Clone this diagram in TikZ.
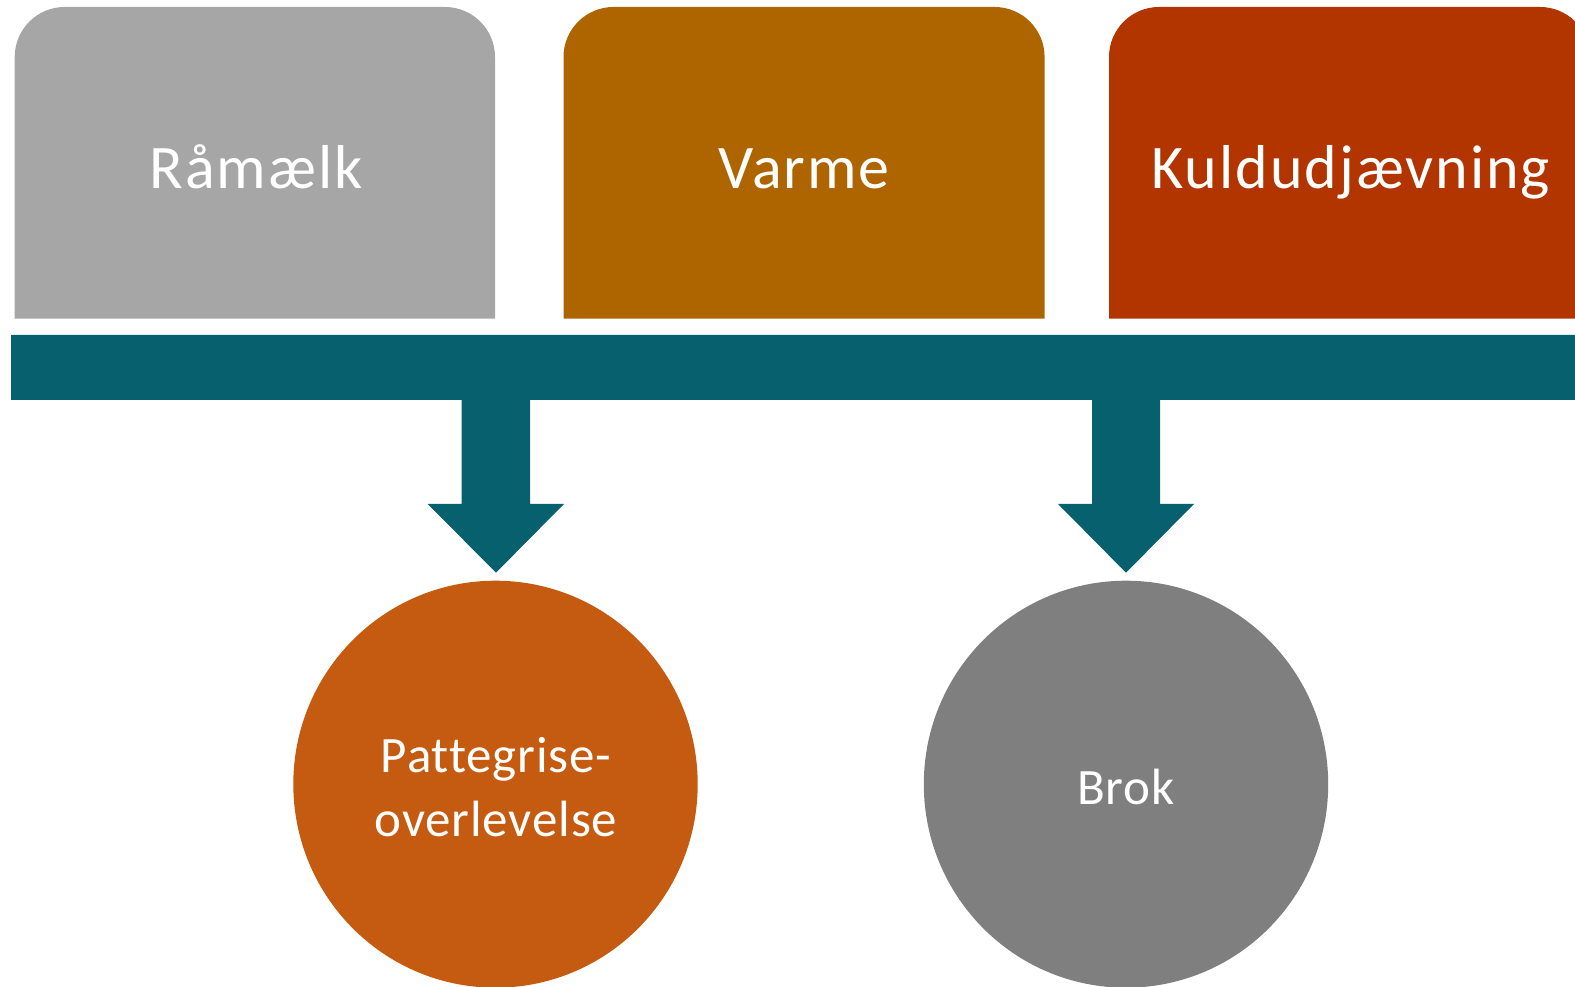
\documentclass[tikz,border=0pt]{standalone}
\usepackage{fontspec}
\usetikzlibrary{shapes.geometric}
\setmainfont[Ligatures=NoCommon]{Carlito}
\newfontfamily\headfont[Ligatures=NoCommon, LetterSpace=3.2]{Carlito}
\newfontfamily\circfont[Ligatures=NoCommon, LetterSpace=1.6]{Carlito}
\definecolor{boxgray}{HTML}{A6A6A6}
\definecolor{boxamber}{HTML}{AE6500}
\definecolor{boxrust}{HTML}{B23500}
\definecolor{barteal}{HTML}{06606E}
\definecolor{circorange}{HTML}{C55A11}
\definecolor{circgray}{HTML}{7F7F7F}
\tikzset{
  headlabel/.style={text=white, font=\headfont\fontsize{62}{74}\selectfont, anchor=base, inner sep=0pt},
  circlabel/.style={text=white, font=\circfont\fontsize{51}{62}\selectfont, anchor=base, inner sep=0pt},
  bubble/.style={ellipse, minimum width=404.4pt, minimum height=407pt, inner sep=0pt},
}
% top box with rounded upper corners: left x, right x, colour
\newcommand{\tabbox}[3]{%
  \fill[#3] (#1,667.3) -- (#1,929) arc[start angle=180, end angle=90, radius=50pt]
    -- ({#2-50},979) arc[start angle=90, end angle=0, radius=50pt] -- (#2,667.3) -- cycle;}
\begin{document}
\begin{tikzpicture}[x=1pt, y=1pt]
\useasboundingbox (0,0) rectangle (1575,986);

% factor boxes
\tabbox{14.7}{495}{boxgray}
\tabbox{563.5}{1044.6}{boxamber}
\tabbox{1109}{1590}{boxrust}
\node[headlabel] (t1) at (256,797) {Råmælk};
\node[headlabel] (t2) at (804,797) {Varme};
\node[headlabel] (t3) at (1351,797) {Kuldudjævning};

% horizontal bar with two downward arrows
\fill[barteal] (11,651) -- (1575,651) -- (1575,586)
  -- (1160,586) -- (1160,482) -- (1194,482) -- (1126,413.3) -- (1058,482) -- (1092,482) -- (1092,586)
  -- (530,586) -- (530,482) -- (564,482) -- (496,413.3) -- (427.7,482) -- (461.7,482) -- (461.7,586)
  -- (11,586) -- cycle;

% outcome circles
\node[bubble, fill=circorange] (c1) at (495.5,201.8) {};
\node[bubble, fill=circgray] (c2) at (1126,201.8) {};
\node[circlabel] (c1a) at (496,213) {Pattegrise-};
\node[circlabel] (c1b) at (496,149) {overlevelse};
\node[circlabel] (c2a) at (1126,181) {Brok};
\end{tikzpicture}
\end{document}
